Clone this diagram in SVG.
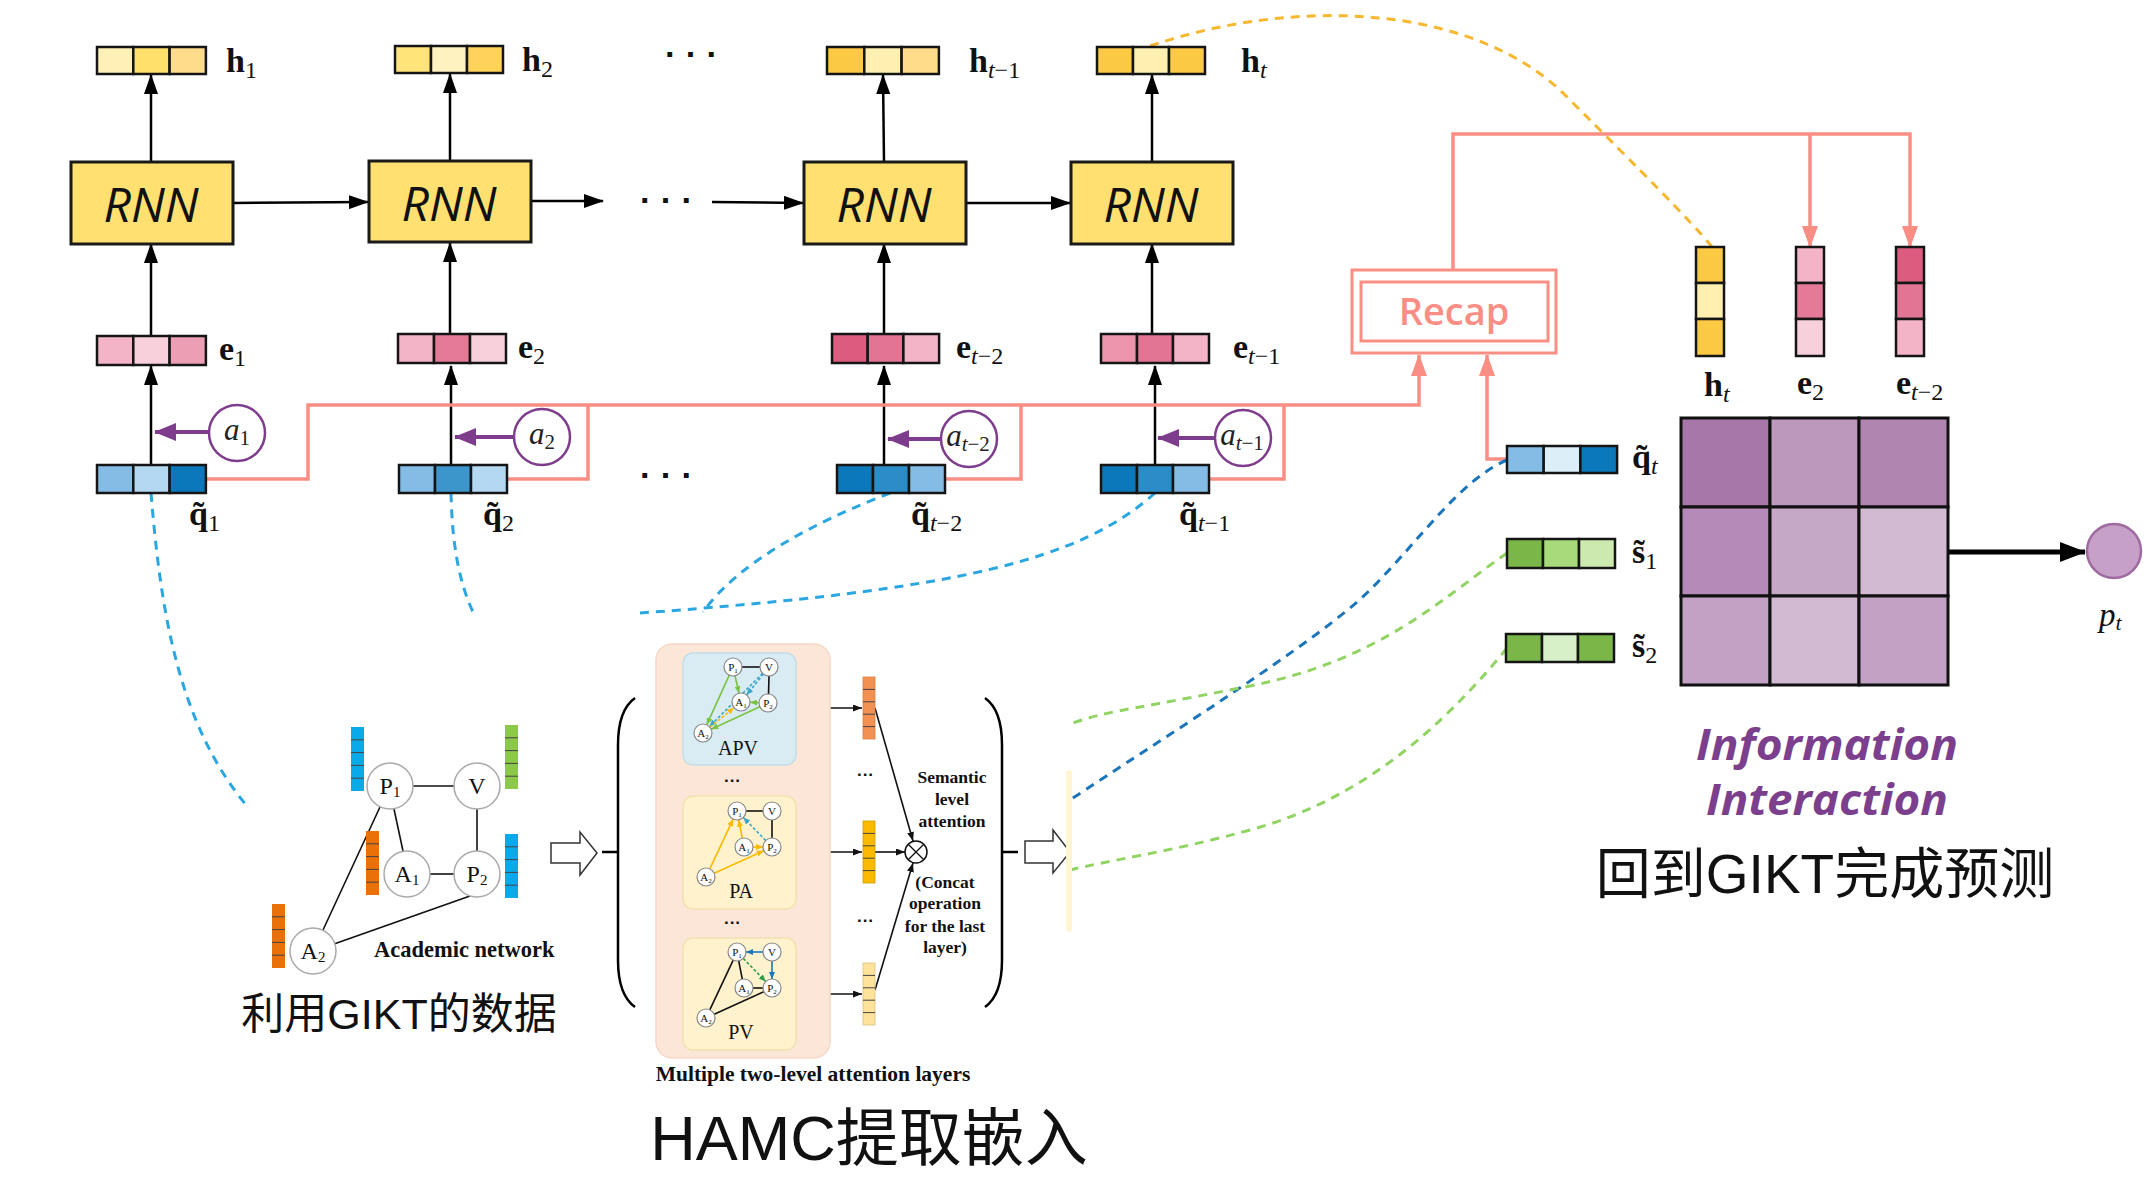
<svg xmlns="http://www.w3.org/2000/svg" width="2150" height="1192" viewBox="0 0 2150 1192">
<defs>
<style>
.c{stroke:#151515;stroke-width:2.5}
.rnn{fill:#FFE070;stroke:#1a1a1a;stroke-width:3}
.rt{font-family:"Open Sans","DejaVu Sans",sans-serif;font-style:italic;font-size:48px;text-anchor:middle;fill:#111}
.bk{stroke:#000;stroke-width:2.5;fill:none}
.sal{stroke:#FA8E84;stroke-width:3.5;fill:none}
.pur{stroke:#7E3D8C;stroke-width:4;fill:none}
.lbl{font-family:"Liberation Serif","DejaVu Serif",serif;font-weight:bold;font-size:34px;fill:#111}
.sub{font-weight:normal;font-size:24px}
.it{font-style:italic}
.al{font-family:"Liberation Serif","DejaVu Serif",serif;font-style:italic;font-size:31px;fill:#222;text-anchor:middle}
.als{font-size:21px;font-style:normal}
.circ{fill:#fff;stroke:#7E3D8C;stroke-width:2.5}
.dl{stroke:#2AA7E0;stroke-width:3;fill:none;stroke-dasharray:9 7}
.dd{stroke:#1B75BB;stroke-width:3;fill:none;stroke-dasharray:9 7}
.dg{stroke:#92D464;stroke-width:3;fill:none;stroke-dasharray:9 7}
.dy{stroke:#F6B830;stroke-width:3;fill:none;stroke-dasharray:9 7}
.nd{fill:#fff;stroke:#aaa;stroke-width:1.5}
.ndt{font-family:"Liberation Serif","DejaVu Serif",serif;font-size:24px;text-anchor:middle;fill:#111}
.sn{fill:#fff;stroke:#888;stroke-width:1.2}
.snt{font-family:"Liberation Serif","DejaVu Serif",serif;font-size:11px;text-anchor:middle;fill:#111}
.tl{stroke:#111;stroke-width:1.6;fill:none}
.sv{font-family:"Liberation Serif","DejaVu Serif",serif;font-weight:bold;font-size:17.5px;text-anchor:middle;fill:#111}
.dots{font-family:"Liberation Sans",sans-serif;font-weight:bold;font-size:34px;fill:#111}
.cjk{font-family:"Liberation Sans","Noto Sans CJK SC",sans-serif;fill:#111;text-anchor:middle}
.hol{fill:#fff;stroke:#333;stroke-width:1.5}
.vl{stroke:#444;stroke-width:1}
.it2{font-family:"Open Sans","DejaVu Sans",sans-serif;font-weight:bold;font-style:italic;font-size:43px;fill:#7B3F8E;text-anchor:middle}
</style>
<marker id="ab" markerWidth="20" markerHeight="14" refX="19" refY="7" orient="auto" markerUnits="userSpaceOnUse"><path d="M0,0 L20,7 L0,14 z" fill="#000"/></marker>
<marker id="ak" markerWidth="26" markerHeight="20" refX="25" refY="10" orient="auto" markerUnits="userSpaceOnUse"><path d="M0,0 L26,10 L0,20 z" fill="#000"/></marker>
<marker id="as" markerWidth="22" markerHeight="16" refX="21" refY="8" orient="auto" markerUnits="userSpaceOnUse"><path d="M0,0 L22,8 L0,16 z" fill="#FA8E84"/></marker>
<marker id="ap" markerWidth="22" markerHeight="18" refX="21" refY="9" orient="auto" markerUnits="userSpaceOnUse"><path d="M0,0 L22,9 L0,18 z" fill="#7E3D8C"/></marker>
<marker id="sk" markerWidth="9" markerHeight="7" refX="9" refY="3.5" orient="auto" markerUnits="userSpaceOnUse"><path d="M0,0 L9,3.5 L0,7 z" fill="#111"/></marker>
<marker id="sg" markerWidth="7" markerHeight="6" refX="7" refY="3" orient="auto" markerUnits="userSpaceOnUse"><path d="M0,0 L7,3 L0,6 z" fill="#7CC242"/></marker>
<marker id="so" markerWidth="7" markerHeight="6" refX="7" refY="3" orient="auto" markerUnits="userSpaceOnUse"><path d="M0,0 L7,3 L0,6 z" fill="#FBB900"/></marker>
<marker id="sb" markerWidth="7" markerHeight="6" refX="7" refY="3" orient="auto" markerUnits="userSpaceOnUse"><path d="M0,0 L7,3 L0,6 z" fill="#1B75BB"/></marker>
<marker id="st" markerWidth="7" markerHeight="6" refX="7" refY="3" orient="auto" markerUnits="userSpaceOnUse"><path d="M0,0 L7,3 L0,6 z" fill="#3AA6C8"/></marker>
<marker id="sgr" markerWidth="7" markerHeight="6" refX="7" refY="3" orient="auto" markerUnits="userSpaceOnUse"><path d="M0,0 L7,3 L0,6 z" fill="#2AA04A"/></marker>
</defs>
<rect width="2150" height="1192" fill="#fff"/>

<g id="connectors">
<path class="dy" d="M1150,46 C1300,-5 1480,5 1570,100 C1640,170 1690,220 1712,247"/>
<line class="bk" x1="151" y1="162" x2="151" y2="75" marker-end="url(#ab)"/>
<line class="bk" x1="151" y1="336" x2="151" y2="244" marker-end="url(#ab)"/>
<line class="bk" x1="151" y1="465" x2="151" y2="366" marker-end="url(#ab)"/>
<line class="bk" x1="450" y1="161" x2="450" y2="74" marker-end="url(#ab)"/>
<line class="bk" x1="450" y1="336" x2="450" y2="243" marker-end="url(#ab)"/>
<line class="bk" x1="451" y1="465" x2="451" y2="366" marker-end="url(#ab)"/>
<line class="bk" x1="884" y1="162" x2="883" y2="75" marker-end="url(#ab)"/>
<line class="bk" x1="884" y1="336" x2="884" y2="244" marker-end="url(#ab)"/>
<line class="bk" x1="884" y1="464" x2="884" y2="366" marker-end="url(#ab)"/>
<line class="bk" x1="1152" y1="162" x2="1152" y2="75" marker-end="url(#ab)"/>
<line class="bk" x1="1152" y1="336" x2="1152" y2="244" marker-end="url(#ab)"/>
<line class="bk" x1="1155" y1="465" x2="1155" y2="366" marker-end="url(#ab)"/>
<line class="bk" x1="233" y1="203" x2="368" y2="202" marker-end="url(#ab)"/>
<line class="bk" x1="531" y1="201" x2="603" y2="201" marker-end="url(#ab)"/>
<line class="bk" x1="712" y1="202" x2="803" y2="203" marker-end="url(#ab)"/>
<line class="bk" x1="966" y1="203" x2="1070" y2="203" marker-end="url(#ab)"/>
<line class="pur" x1="209" y1="432" x2="155" y2="432" marker-end="url(#ap)"/>
<line class="pur" x1="514" y1="437" x2="455" y2="437" marker-end="url(#ap)"/>
<line class="pur" x1="942" y1="439" x2="888" y2="439" marker-end="url(#ap)"/>
<line class="pur" x1="1216" y1="438" x2="1158" y2="438" marker-end="url(#ap)"/>
<path class="sal" d="M206,479 H308 V405 H1419 V355" marker-end="url(#as)"/>
<path class="sal" d="M507,479 H588 V405"/>
<path class="sal" d="M945,479 H1021 V405"/>
<path class="sal" d="M1209,479 H1284 V405"/>
<path class="sal" d="M1507,459 H1487 V355" marker-end="url(#as)"/>
<path class="sal" d="M1453,270 V134 H1910 V247" marker-end="url(#as)"/>
<path class="sal" d="M1810,134 V247" marker-end="url(#as)"/>
<line x1="1949" y1="552" x2="2085" y2="552" stroke="#000" stroke-width="5" marker-end="url(#ak)"/>
<path class="dl" d="M151,493 C160,600 175,720 247,806"/>
<path class="dl" d="M451,493 C452,540 458,580 473,612"/>
<path class="dl" d="M890,493 C820,520 740,560 703,612"/>
<path class="dl" d="M1155,493 C1080,560 960,590 640,613"/>
<path class="dd" d="M1507,460 C1460,480 1420,540 1370,590 C1320,640 1160,740 1070,800"/>
<path class="dg" d="M1507,553 C1440,600 1380,660 1250,686 C1120,712 1110,710 1070,724"/>
<path class="dg" d="M1507,648 C1440,730 1360,800 1250,830 C1170,852 1110,860 1070,870"/>
<line class="tl" x1="413" y1="786" x2="454" y2="786"/>
<line class="tl" x1="477" y1="809" x2="477" y2="851"/>
<line class="tl" x1="394" y1="809" x2="403" y2="851"/>
<line class="tl" x1="430" y1="874" x2="454" y2="874"/>
<line class="tl" x1="380" y1="807" x2="323" y2="930"/>
<line class="tl" x1="334" y1="944" x2="470" y2="896"/>
<line class="tl" x1="817" y1="708" x2="862" y2="708" marker-end="url(#sk)"/>
<line class="tl" x1="817" y1="852" x2="862" y2="852" marker-end="url(#sk)"/>
<line class="tl" x1="817" y1="994" x2="862" y2="994" marker-end="url(#sk)"/>
<line class="tl" x1="875" y1="708" x2="913" y2="841" marker-end="url(#sk)"/>
<line class="tl" x1="875" y1="852" x2="905" y2="852" marker-end="url(#sk)"/>
<line class="tl" x1="875" y1="990" x2="913" y2="863" marker-end="url(#sk)"/>
<path class="bk" d="M635,698 Q618,710 618,745 L618,960 Q618,995 635,1007"/>
<line class="bk" x1="602" y1="852" x2="618" y2="852"/>
<path class="bk" d="M985,698 Q1002,710 1002,745 L1002,960 Q1002,995 985,1007"/>
<line class="bk" x1="1002" y1="852" x2="1018" y2="852"/>
<path class="hol" d="M551,843 L580,843 L580,832 L597,853 L580,875 L580,863 L551,863 Z"/>
<path class="hol" d="M1025,841 L1053,841 L1053,830 L1070,852 L1053,873 L1053,863 L1025,863 Z"/>
</g>

<g id="h1"><rect class="c" x="97" y="47" width="36.3" height="27" fill="#FFF0B8"/><rect class="c" x="133.3" y="47" width="36.3" height="27" fill="#FFE06A"/><rect class="c" x="169.6" y="47" width="36.3" height="27" fill="#FFDC8C"/>
<text class="lbl" x="226" y="72">h<tspan class="sub" dy="6">1</tspan></text></g>
<g id="h2"><rect class="c" x="395" y="46" width="36" height="27" fill="#FFE47A"/><rect class="c" x="431" y="46" width="36" height="27" fill="#FFF2C0"/><rect class="c" x="467" y="46" width="36" height="27" fill="#FFD35A"/>
<text class="lbl" x="522" y="71">h<tspan class="sub" dy="6">2</tspan></text></g>
<g id="ht1"><rect class="c" x="827" y="47" width="37.3" height="27" fill="#FBC943"/><rect class="c" x="864.3" y="47" width="37.3" height="27" fill="#FFEFB0"/><rect class="c" x="901.6" y="47" width="37.3" height="27" fill="#FFDC8A"/>
<text class="lbl" x="969" y="72">h<tspan class="sub" dy="6"><tspan class="it">t</tspan>−1</tspan></text></g>
<g id="ht"><rect class="c" x="1097" y="47" width="36" height="27" fill="#FBC943"/><rect class="c" x="1133" y="47" width="36" height="27" fill="#FFEFB0"/><rect class="c" x="1169" y="47" width="36" height="27" fill="#FBC943"/>
<text class="lbl" x="1241" y="72">h<tspan class="sub it" dy="6">t</tspan></text></g>
<text class="dots" x="665" y="66">· · ·</text>
<text class="dots" x="640" y="212">· · ·</text>
<text class="dots" x="640" y="487">· · ·</text>

<g id="rnn1"><rect class="rnn" x="71" y="162" width="162" height="82"/><text class="rt" x="151" y="222">RNN</text></g>
<g id="rnn2"><rect class="rnn" x="369" y="161" width="162" height="81"/><text class="rt" x="449" y="221">RNN</text></g>
<g id="rnn3"><rect class="rnn" x="804" y="162" width="162" height="82"/><text class="rt" x="884" y="222">RNN</text></g>
<g id="rnn4"><rect class="rnn" x="1071" y="162" width="162" height="82"/><text class="rt" x="1151" y="222">RNN</text></g>

<g id="e1"><rect class="c" x="97" y="336" width="36.3" height="29" fill="#F4B4C8"/><rect class="c" x="133.3" y="336" width="36.3" height="29" fill="#F8D0DC"/><rect class="c" x="169.6" y="336" width="36.3" height="29" fill="#EC9EB4"/>
<text class="lbl" x="219" y="360">e<tspan class="sub" dy="6">1</tspan></text></g>
<g id="e2"><rect class="c" x="398" y="334" width="36" height="29" fill="#F4B4C8"/><rect class="c" x="434" y="334" width="36" height="29" fill="#E47A98"/><rect class="c" x="470" y="334" width="36" height="29" fill="#F8D0DC"/>
<text class="lbl" x="518" y="358">e<tspan class="sub" dy="6">2</tspan></text></g>
<g id="et2"><rect class="c" x="832" y="334" width="35.7" height="29" fill="#DC5C80"/><rect class="c" x="867.7" y="334" width="35.7" height="29" fill="#E27494"/><rect class="c" x="903.4" y="334" width="35.7" height="29" fill="#F4B4C8"/>
<text class="lbl" x="956" y="358">e<tspan class="sub" dy="6"><tspan class="it">t</tspan>−2</tspan></text></g>
<g id="et1"><rect class="c" x="1101" y="334" width="36" height="29" fill="#EC94AC"/><rect class="c" x="1137" y="334" width="36" height="29" fill="#E27494"/><rect class="c" x="1173" y="334" width="36" height="29" fill="#F4B4C8"/>
<text class="lbl" x="1233" y="358">e<tspan class="sub" dy="6"><tspan class="it">t</tspan>−1</tspan></text></g>

<g id="q1"><rect class="c" x="97" y="465" width="36.3" height="28" fill="#84BCE6"/><rect class="c" x="133.3" y="465" width="36.3" height="28" fill="#B4D8F2"/><rect class="c" x="169.6" y="465" width="36.3" height="28" fill="#0C78BC"/>
<text class="lbl" x="189" y="525">q&#x303;<tspan class="sub" dy="6">1</tspan></text></g>
<g id="q2"><rect class="c" x="399" y="465" width="36" height="28" fill="#84BCE6"/><rect class="c" x="435" y="465" width="36" height="28" fill="#3C96CC"/><rect class="c" x="471" y="465" width="36" height="28" fill="#B4D8F2"/>
<text class="lbl" x="483" y="525">q&#x303;<tspan class="sub" dy="6">2</tspan></text></g>
<g id="qt2"><rect class="c" x="837" y="465" width="36" height="28" fill="#0C78BC"/><rect class="c" x="873" y="465" width="36" height="28" fill="#2C8CC8"/><rect class="c" x="909" y="465" width="36" height="28" fill="#84BCE6"/>
<text class="lbl" x="911" y="525">q&#x303;<tspan class="sub" dy="6"><tspan class="it">t</tspan>−2</tspan></text></g>
<g id="qt1"><rect class="c" x="1101" y="465" width="36" height="28" fill="#0C78BC"/><rect class="c" x="1137" y="465" width="36" height="28" fill="#2C8CC8"/><rect class="c" x="1173" y="465" width="36" height="28" fill="#84BCE6"/>
<text class="lbl" x="1179" y="525">q&#x303;<tspan class="sub" dy="6"><tspan class="it">t</tspan>−1</tspan></text></g>

<g id="a1"><ellipse class="circ" cx="237" cy="433" rx="28" ry="28"/><text class="al" x="237" y="440">a<tspan class="als" dy="5">1</tspan></text></g>
<g id="a2"><ellipse class="circ" cx="542" cy="437" rx="28" ry="28"/><text class="al" x="542" y="444">a<tspan class="als" dy="5">2</tspan></text></g>
<g id="at2"><ellipse class="circ" cx="969" cy="439" rx="28" ry="28"/><text class="al" x="968" y="446">a<tspan class="als" dy="5"><tspan class="it">t</tspan>−2</tspan></text></g>
<g id="at1"><ellipse class="circ" cx="1243" cy="438" rx="28" ry="28"/><text class="al" x="1242" y="445">a<tspan class="als" dy="5"><tspan class="it">t</tspan>−1</tspan></text></g>

<g id="recap"><rect x="1352" y="270" width="204" height="83" fill="#fff" stroke="#FA8E84" stroke-width="3"/><rect x="1361" y="282" width="187" height="59" fill="none" stroke="#FA8E84" stroke-width="3"/>
<text x="1454" y="325" font-family="'Open Sans','DejaVu Sans',sans-serif" font-weight="600" font-size="38" fill="#FA8E84" text-anchor="middle">Recap</text></g>

<g id="vht"><rect class="c" x="1696" y="247" width="28" height="36" fill="#FBC943"/><rect class="c" x="1696" y="283" width="28" height="36" fill="#FFEFB0"/><rect class="c" x="1696" y="319" width="28" height="37" fill="#FBC943"/>
<text class="lbl" x="1704" y="396">h<tspan class="sub it" dy="6">t</tspan></text></g>
<g id="ve2"><rect class="c" x="1796" y="247" width="28" height="36" fill="#F4B4C8"/><rect class="c" x="1796" y="283" width="28" height="36" fill="#E47A98"/><rect class="c" x="1796" y="319" width="28" height="37" fill="#F8D0DC"/>
<text class="lbl" x="1797" y="394">e<tspan class="sub" dy="6">2</tspan></text></g>
<g id="vet2"><rect class="c" x="1896" y="247" width="28" height="36" fill="#DC5C80"/><rect class="c" x="1896" y="283" width="28" height="36" fill="#E27494"/><rect class="c" x="1896" y="319" width="28" height="37" fill="#F4B4C8"/>
<text class="lbl" x="1896" y="394">e<tspan class="sub" dy="6"><tspan class="it">t</tspan>−2</tspan></text></g>

<g id="qt"><rect class="c" x="1507" y="446" width="36.7" height="27" fill="#84BCE6"/><rect class="c" x="1543.7" y="446" width="36.7" height="27" fill="#DCEEF8"/><rect class="c" x="1580.4" y="446" width="36.7" height="27" fill="#0C78BC"/>
<text class="lbl" x="1632" y="468">q&#x303;<tspan class="sub it" dy="6">t</tspan></text></g>
<g id="s1"><rect class="c" x="1507" y="539" width="36" height="29" fill="#7AB648"/><rect class="c" x="1543" y="539" width="36" height="29" fill="#A8DA7C"/><rect class="c" x="1579" y="539" width="36" height="29" fill="#CCEAB0"/>
<text class="lbl" x="1632" y="563">s&#x303;<tspan class="sub" dy="6">1</tspan></text></g>
<g id="s2"><rect class="c" x="1506" y="634" width="36" height="28" fill="#7AB648"/><rect class="c" x="1542" y="634" width="36" height="28" fill="#D8F0C8"/><rect class="c" x="1578" y="634" width="36" height="28" fill="#7AB648"/>
<text class="lbl" x="1632" y="657">s&#x303;<tspan class="sub" dy="6">2</tspan></text></g>

<g id="matrix" stroke="#111" stroke-width="3">
<rect x="1681" y="418" width="89" height="89" fill="#A677A8"/><rect x="1770" y="418" width="89" height="89" fill="#BC99BC"/><rect x="1859" y="418" width="89" height="89" fill="#B086B0"/>
<rect x="1681" y="507" width="89" height="89" fill="#B68AB8"/><rect x="1770" y="507" width="89" height="89" fill="#C4A8C6"/><rect x="1859" y="507" width="89" height="89" fill="#D2BAD2"/>
<rect x="1681" y="596" width="89" height="89" fill="#C2A2C4"/><rect x="1770" y="596" width="89" height="89" fill="#D2BAD2"/><rect x="1859" y="596" width="89" height="89" fill="#C2A2C4"/>
</g>
<g id="pt"><ellipse cx="2114" cy="551" rx="27" ry="27" fill="#C6A0C6" stroke="#9E6AA0" stroke-width="2.5"/>
<text x="2099" y="626" font-family="'Liberation Serif','DejaVu Serif',serif" font-style="italic" font-size="33" fill="#111">p<tspan font-size="22" dy="4">t</tspan></text></g>

<g id="info">
<text class="it2" x="1827" y="760" textLength="262" lengthAdjust="spacingAndGlyphs">Information</text>
<text class="it2" x="1827" y="815" textLength="242" lengthAdjust="spacingAndGlyphs">Interaction</text>
<text class="cjk" x="1825" y="893" font-size="55">回到GIKT完成预测</text>
</g>

<g id="academic">
<rect x="351" y="727" width="13" height="64" fill="#0AAAE8"/><g class="vl"><line x1="351" y1="739.8" x2="364" y2="739.8"/><line x1="351" y1="752.6" x2="364" y2="752.6"/><line x1="351" y1="765.4" x2="364" y2="765.4"/><line x1="351" y1="778.2" x2="364" y2="778.2"/></g>
<rect x="505" y="725" width="13" height="64" fill="#8CC84B"/><g class="vl"><line x1="505" y1="737.8" x2="518" y2="737.8"/><line x1="505" y1="750.6" x2="518" y2="750.6"/><line x1="505" y1="763.4" x2="518" y2="763.4"/><line x1="505" y1="776.2" x2="518" y2="776.2"/></g>
<rect x="366" y="831" width="13" height="64" fill="#E8710A"/><g class="vl"><line x1="366" y1="843.8" x2="379" y2="843.8"/><line x1="366" y1="856.6" x2="379" y2="856.6"/><line x1="366" y1="869.4" x2="379" y2="869.4"/><line x1="366" y1="882.2" x2="379" y2="882.2"/></g>
<rect x="505" y="834" width="13" height="64" fill="#0AAAE8"/><g class="vl"><line x1="505" y1="846.8" x2="518" y2="846.8"/><line x1="505" y1="859.6" x2="518" y2="859.6"/><line x1="505" y1="872.4" x2="518" y2="872.4"/><line x1="505" y1="885.2" x2="518" y2="885.2"/></g>
<rect x="272" y="904" width="13" height="64" fill="#E8710A"/><g class="vl"><line x1="272" y1="916.8" x2="285" y2="916.8"/><line x1="272" y1="929.6" x2="285" y2="929.6"/><line x1="272" y1="942.4" x2="285" y2="942.4"/><line x1="272" y1="955.2" x2="285" y2="955.2"/></g>
<circle class="nd" cx="390" cy="786" r="23"/><text class="ndt" x="390" y="794">P<tspan font-size="15" dy="3">1</tspan></text>
<circle class="nd" cx="477" cy="786" r="23"/><text class="ndt" x="477" y="794">V</text>
<circle class="nd" cx="407" cy="874" r="23"/><text class="ndt" x="407" y="882">A<tspan font-size="15" dy="3">1</tspan></text>
<circle class="nd" cx="477" cy="874" r="23"/><text class="ndt" x="477" y="882">P<tspan font-size="15" dy="3">2</tspan></text>
<circle class="nd" cx="313" cy="951" r="23"/><text class="ndt" x="313" y="959">A<tspan font-size="15" dy="3">2</tspan></text>
<text x="374" y="957" font-family="'Liberation Serif','DejaVu Serif',serif" font-weight="bold" font-size="22.5" fill="#111">Academic network</text>
<text class="cjk" x="399" y="1029" font-size="43">利用GIKT的数据</text>
</g>

<g id="hamc">
<rect x="656" y="644" width="174" height="414" rx="16" fill="#FCE6D8" stroke="#F6D8C6" stroke-width="1.5"/>
<rect x="683" y="653" width="113" height="112" rx="10" fill="#D9ECF3" stroke="#C4DEE8" stroke-width="1.5"/>
<rect x="683" y="796" width="113" height="113" rx="10" fill="#FFF2CC" stroke="#F1E2B0" stroke-width="1.5"/>
<rect x="683" y="938" width="113" height="112" rx="10" fill="#FFF2CC" stroke="#F1E2B0" stroke-width="1.5"/>
<line class="tl" x1="742" y1="667" x2="760" y2="667"/><line class="tl" x1="769" y1="676" x2="768.5" y2="694"/>
<g stroke="#7CC242" stroke-width="1.6"><line x1="729.3" y1="675.2" x2="706.7" y2="724.8" marker-end="url(#sg)"/><line x1="735" y1="675.8" x2="739" y2="693.2" marker-end="url(#sg)"/><line x1="759" y1="702.7" x2="750" y2="702.3" marker-end="url(#sg)"/><line x1="759.8" y1="706.8" x2="711.2" y2="729.2" marker-end="url(#sg)"/></g>
<g stroke="#3AA6C8" stroke-width="1.6" stroke-dasharray="3 2"><line x1="763.4" y1="674" x2="746.6" y2="695" marker-end="url(#st)"/><line x1="762.6" y1="673.4" x2="709.4" y2="726.6" marker-end="url(#st)"/></g>
<line x1="710" y1="727.3" x2="734" y2="707.7" stroke="#FBB900" stroke-width="1.6" stroke-dasharray="3 2" marker-end="url(#so)"/>
<circle class="sn" cx="733" cy="667" r="9"/><text class="snt" x="733" y="671">P<tspan font-size="7" dy="2">1</tspan></text>
<circle class="sn" cx="769" cy="667" r="9"/><text class="snt" x="769" y="671">V</text>
<circle class="sn" cx="741" cy="702" r="9"/><text class="snt" x="741" y="706">A<tspan font-size="7" dy="2">1</tspan></text>
<circle class="sn" cx="768" cy="703" r="9"/><text class="snt" x="768" y="707">P<tspan font-size="7" dy="2">2</tspan></text>
<circle class="sn" cx="703" cy="733" r="9"/><text class="snt" x="703" y="737">A<tspan font-size="7" dy="2">2</tspan></text>
<text x="738" y="755" font-family="'Liberation Serif','DejaVu Serif',serif" font-size="20" text-anchor="middle" fill="#111">APV</text>
<text x="724" y="786" font-family="'Liberation Sans',sans-serif" font-weight="bold" font-size="17" fill="#111">···</text>
<line class="tl" x1="746" y1="811" x2="763" y2="811"/><line class="tl" x1="772" y1="820" x2="772" y2="838"/>
<g stroke="#FBB900" stroke-width="1.6"><line x1="709.8" y1="868.9" x2="733.2" y2="819.1" marker-end="url(#so)"/><line x1="742.3" y1="838.2" x2="738.7" y2="819.8" marker-end="url(#so)"/><line x1="753" y1="847" x2="763" y2="847" marker-end="url(#so)"/><line x1="714.2" y1="873.3" x2="763.8" y2="850.7" marker-end="url(#so)"/></g>
<line x1="765.7" y1="840.5" x2="743.3" y2="817.5" stroke="#3AA6C8" stroke-width="1.6" stroke-dasharray="3 2" marker-end="url(#st)"/>
<circle class="sn" cx="737" cy="811" r="9"/><text class="snt" x="737" y="815">P<tspan font-size="7" dy="2">1</tspan></text>
<circle class="sn" cx="772" cy="811" r="9"/><text class="snt" x="772" y="815">V</text>
<circle class="sn" cx="744" cy="847" r="9"/><text class="snt" x="744" y="851">A<tspan font-size="7" dy="2">1</tspan></text>
<circle class="sn" cx="772" cy="847" r="9"/><text class="snt" x="772" y="851">P<tspan font-size="7" dy="2">2</tspan></text>
<circle class="sn" cx="706" cy="877" r="9"/><text class="snt" x="706" y="881">A<tspan font-size="7" dy="2">2</tspan></text>
<text x="741" y="898" font-family="'Liberation Serif','DejaVu Serif',serif" font-size="20" text-anchor="middle" fill="#111">PA</text>
<text x="724" y="928" font-family="'Liberation Sans',sans-serif" font-weight="bold" font-size="17" fill="#111">···</text>
<g stroke="#1B75BB" stroke-width="1.6"><line x1="763" y1="952" x2="746" y2="952" marker-end="url(#sb)"/><line x1="772" y1="961" x2="772" y2="979" marker-end="url(#sb)"/></g>
<line class="tl" x1="738.7" y1="960.8" x2="742.3" y2="979.2"/><line class="tl" x1="753" y1="988" x2="763" y2="988"/><line class="tl" x1="733.2" y1="960.1" x2="709.8" y2="1009.9"/><line class="tl" x1="714.2" y1="1014.3" x2="763.8" y2="991.7"/>
<line x1="743.3" y1="958.5" x2="765.7" y2="981.5" stroke="#2AA04A" stroke-width="1.6" stroke-dasharray="3 2" marker-end="url(#sgr)"/>
<circle class="sn" cx="737" cy="952" r="9"/><text class="snt" x="737" y="956">P<tspan font-size="7" dy="2">1</tspan></text>
<circle class="sn" cx="772" cy="952" r="9"/><text class="snt" x="772" y="956">V</text>
<circle class="sn" cx="744" cy="988" r="9"/><text class="snt" x="744" y="992">A<tspan font-size="7" dy="2">1</tspan></text>
<circle class="sn" cx="772" cy="988" r="9"/><text class="snt" x="772" y="992">P<tspan font-size="7" dy="2">2</tspan></text>
<circle class="sn" cx="706" cy="1018" r="9"/><text class="snt" x="706" y="1022">A<tspan font-size="7" dy="2">2</tspan></text>
<text x="741" y="1039" font-family="'Liberation Serif','DejaVu Serif',serif" font-size="20" text-anchor="middle" fill="#111">PV</text>
<rect x="863" y="677" width="12" height="62" fill="#F39152" stroke="#D98040" stroke-width="0.8"/><g class="vl"><line x1="863" y1="689.4" x2="875" y2="689.4"/><line x1="863" y1="701.8" x2="875" y2="701.8"/><line x1="863" y1="714.2" x2="875" y2="714.2"/><line x1="863" y1="726.6" x2="875" y2="726.6"/></g>
<rect x="863" y="821" width="12" height="62" fill="#FBB900" stroke="#D09A00" stroke-width="0.8"/><g class="vl"><line x1="863" y1="833.4" x2="875" y2="833.4"/><line x1="863" y1="845.8" x2="875" y2="845.8"/><line x1="863" y1="858.2" x2="875" y2="858.2"/><line x1="863" y1="870.6" x2="875" y2="870.6"/></g>
<rect x="863" y="963" width="12" height="62" fill="#FFE39A" stroke="#D8C080" stroke-width="0.8"/><g class="vl"><line x1="863" y1="975.4" x2="875" y2="975.4"/><line x1="863" y1="987.8" x2="875" y2="987.8"/><line x1="863" y1="1000.2" x2="875" y2="1000.2"/><line x1="863" y1="1012.6" x2="875" y2="1012.6"/></g>
<text x="857" y="780" font-family="'Liberation Sans',sans-serif" font-weight="bold" font-size="17" fill="#111">···</text>
<text x="857" y="926" font-family="'Liberation Sans',sans-serif" font-weight="bold" font-size="17" fill="#111">···</text>
<circle cx="916" cy="852" r="11" fill="#fff" stroke="#111" stroke-width="1.5"/>
<line x1="908.2" y1="844.2" x2="923.8" y2="859.8" stroke="#111" stroke-width="1.3"/><line x1="923.8" y1="844.2" x2="908.2" y2="859.8" stroke="#111" stroke-width="1.3"/>
<text class="sv" x="952" y="783">Semantic</text>
<text class="sv" x="952" y="805">level</text>
<text class="sv" x="952" y="827">attention</text>
<text class="sv" x="945" y="888">(Concat</text>
<text class="sv" x="945" y="909">operation</text>
<text class="sv" x="945" y="932">for the last</text>
<text class="sv" x="945" y="953">layer)</text>
<text x="813" y="1081" font-family="'Liberation Serif','DejaVu Serif',serif" font-weight="bold" font-size="21.5" text-anchor="middle" fill="#111">Multiple two-level attention layers</text>
<rect x="1066" y="770" width="6" height="162" rx="3" fill="#FFF5D2"/>
<text class="cjk" x="869" y="1160" font-size="63">HAMC提取嵌入</text>
</g>
</svg>
